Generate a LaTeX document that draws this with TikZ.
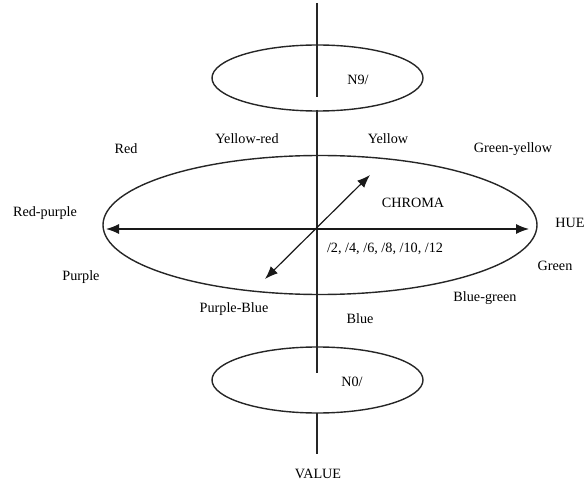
\documentclass[tikz,border=0pt]{standalone}
\usepackage{fontspec}
\setmainfont{Liberation Serif}
\usetikzlibrary{shapes.geometric,arrows.meta}
\begin{document}
\begin{tikzpicture}[x=1pt,y=-1pt,
  lab/.style={font=\fontsize{14.2}{16}\selectfont, inner sep=0pt, text=black},
  ring/.style={draw=black!85, line width=1.4pt, ellipse, inner sep=0pt},
  axis/.style={draw=black!85, line width=1.1pt},
  dbl/.style={draw=black!90, line width=1.2pt, {Latex[length=13pt,width=10pt]}-{Latex[length=13pt,width=10pt]}}]
\useasboundingbox (0,0) rectangle (587,484);
% ellipses
\node[ring, minimum width=211pt, minimum height=66pt] (top) at (317.5,78) {};
\node[ring, minimum width=434pt, minimum height=139pt] (mid) at (320,225) {};
\node[ring, minimum width=211pt, minimum height=66pt] (bot) at (317.5,380) {};
% vertical value axis
\coordinate (v0) at (317,3);
\coordinate (v1) at (317,97);
\coordinate (v2) at (317,110);
\coordinate (v3) at (317,373);
\coordinate (v4) at (317,413);
\coordinate (v5) at (317,454);
\draw[axis] (v0) -- (v1);
\draw[axis] (v2) -- (v3);
\draw[axis] (v4) -- (v5);
% hue and chroma arrows
\coordinate (hl) at (106,229);
\coordinate (hr) at (529,229);
\coordinate (cl) at (265,279);
\coordinate (cr) at (370,175);
\draw[dbl] (hl) -- (hr);
\draw[dbl] (cl) -- (cr);
% labels
\node[lab] (n9) at (358,80) {N9/};
\node[lab] (n0) at (352,382) {N0/};
\node[lab] (yr) at (247,139) {Yellow-red};
\node[lab] (y) at (388,139) {Yellow};
\node[lab] (r) at (126,149) {Red};
\node[lab] (gy) at (513,149) {Green-yellow};
\node[lab] (rp) at (45,213) {Red-purple};
\node[lab] (hue) at (570,223) {HUE};
\node[lab] (chroma) at (413,203) {CHROMA};
\node[lab] (steps) at (385,249) {/2, /4, /6, /8, /10, /12};
\node[lab] (p) at (81,277) {Purple};
\node[lab] (g) at (555,266) {Green};
\node[lab] (bg) at (485,298) {Blue-green};
\node[lab] (pb) at (234,309) {Purple-Blue};
\node[lab] (b) at (360,319) {Blue};
\node[lab] (val) at (318,474) {VALUE};
\end{tikzpicture}
\end{document}
